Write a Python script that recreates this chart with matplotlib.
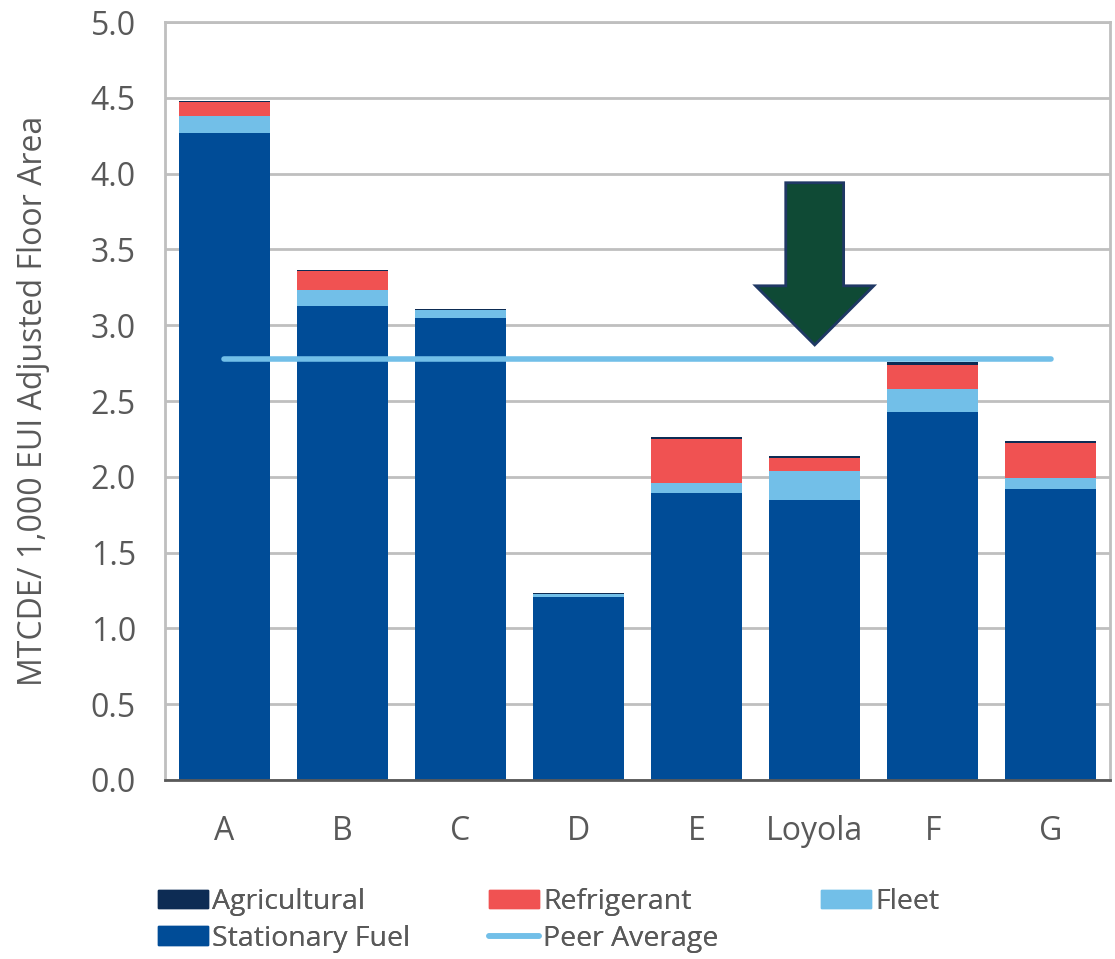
import matplotlib
matplotlib.use("Agg")
import matplotlib.pyplot as plt
from matplotlib.patches import FancyArrow, Patch
from matplotlib.lines import Line2D

plt.rcParams["font.family"] = ["Open Sans", "DejaVu Sans"]

# values
schools = ["A", "B", "C", "D", "E", "Loyola", "F", "G"]
stationary_fuel = [4.27, 3.13, 3.05, 1.21, 1.89, 1.845, 2.43, 1.92]
fleet = [0.11, 0.10, 0.05, 0.015, 0.07, 0.19, 0.15, 0.075]
refrigerant = [0.09, 0.125, 0.0, 0.0, 0.29, 0.09, 0.155, 0.23]
agricultural = [0.01, 0.01, 0.01, 0.01, 0.012, 0.01, 0.023, 0.01]
peer_average = 2.78

c_sf = "#004c97"
c_fleet = "#72bfe8"
c_ref = "#f05252"
c_ag = "#0d2c54"
txt = "#595959"
grid = "#bfbfbf"

fig = plt.figure(figsize=(11.15, 9.59), dpi=100)
ax = fig.add_axes([0.148, 0.1867, 0.8475, 0.7903])

x = list(range(len(schools)))
w = 0.77
b1 = stationary_fuel
b2 = [a + b for a, b in zip(b1, fleet)]
b3 = [a + b for a, b in zip(b2, refrigerant)]

ax.bar(x, stationary_fuel, w, color=c_sf, zorder=2)
ax.bar(x, fleet, w, bottom=b1, color=c_fleet, zorder=2)
ax.bar(x, refrigerant, w, bottom=b2, color=c_ref, zorder=2)
ax.bar(x, agricultural, w, bottom=b3, color=c_ag, zorder=2)

# peer average line from first to last school
ax.plot([x[0], x[-1]], [peer_average, peer_average], color=c_fleet, lw=4,
        solid_capstyle="round", zorder=3)

# arrow pointing at Loyola
ax.add_patch(FancyArrow(5.0, 3.94, 0, -1.07, width=0.49, head_width=1.0,
                        head_length=0.39, length_includes_head=True,
                        facecolor="#0f4a35", edgecolor="#1f3864", lw=2, zorder=4))

ax.set_xlim(-0.5, 7.5)
ax.set_ylim(0, 5.0)
ax.set_yticks([i * 0.5 for i in range(11)])
ax.set_yticklabels([f"{i * 0.5:.1f}" for i in range(11)])
ax.set_xticks(x)
ax.set_xticklabels(schools)
ax.yaxis.grid(True, color=grid, lw=2, zorder=0)
ax.set_axisbelow(True)
ax.tick_params(axis="both", length=0, labelsize=23, colors=txt)
ax.tick_params(axis="y", pad=21)
ax.tick_params(axis="x", pad=25)
for s in ["left", "top", "right"]:
    ax.spines[s].set_color(grid)
    ax.spines[s].set_linewidth(2)
ax.spines["bottom"].set_color(txt)
ax.spines["bottom"].set_linewidth(2)

ax.set_ylabel("MTCDE/ 1,000 EUI Adjusted Floor Area", fontsize=23, color=txt,
              labelpad=29)

# legend laid out in three columns like the original
cols = [
    ([Patch(color=c_ag), Patch(color=c_sf)], ["Agricultural", "Stationary Fuel"], 0.1415),
    ([Patch(color=c_ref), Line2D([], [], color=c_fleet, lw=4, solid_capstyle="round")],
     ["Refrigerant", "Peer Average"], 0.4385),
    ([Patch(color=c_fleet)], ["Fleet"], 0.7365),
]
for handles, labels, xpos in cols:
    leg = fig.legend(handles, labels, loc="upper left", bbox_to_anchor=(xpos, 0.074),
                     frameon=False, fontsize=20.5, handlelength=1.75, handleheight=0.6,
                     handletextpad=0.15, labelspacing=0.3, borderpad=0,
                     borderaxespad=0, labelcolor=txt)
    fig.add_artist(leg)

fig.savefig("out.png", dpi=100)
